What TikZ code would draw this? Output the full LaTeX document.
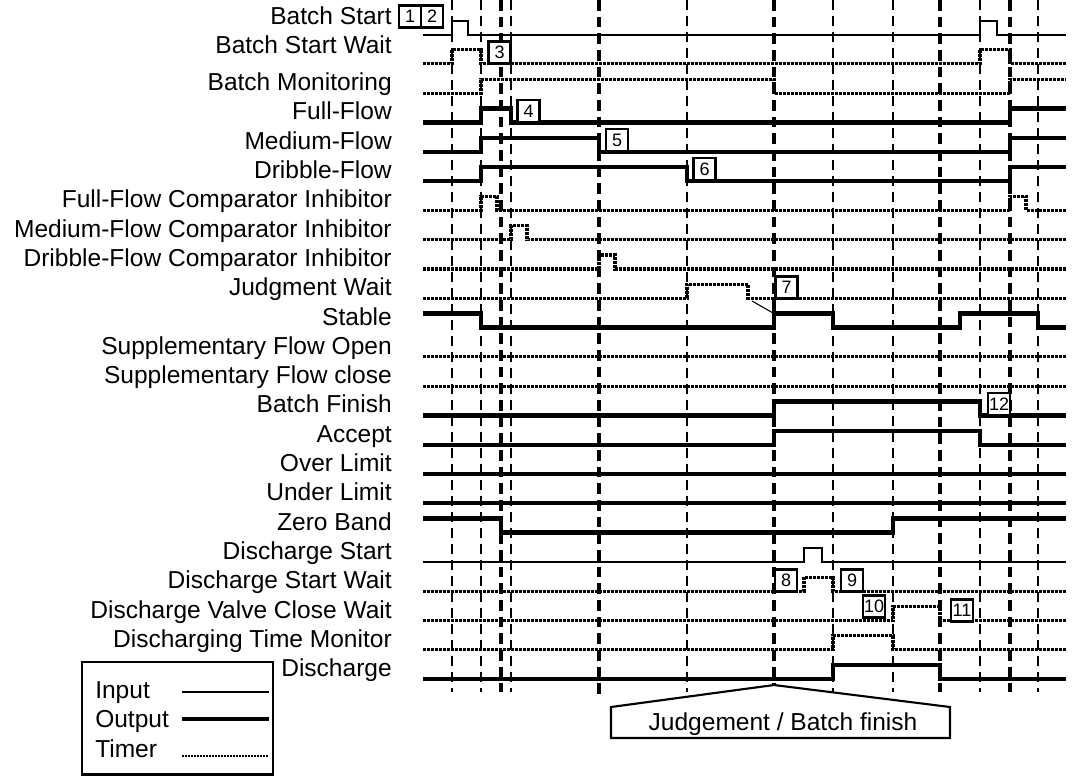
\documentclass[tikz,border=0pt]{standalone}
\usepackage{fontspec}
\setmainfont{Liberation Sans}
\begin{document}
\begin{tikzpicture}[x=0.75pt,y=-0.75pt,
  inp/.style={line width=1.5pt},
  outp/.style={line width=3.2pt},
  tmr/.style={line width=2.4pt,dash pattern=on 2.25pt off 0.75pt},
  vthin/.style={line width=1.1pt,dash pattern=on 7.5pt off 4.5pt},
  vthick/.style={line width=2.3pt,dash pattern=on 8pt off 4.5pt},
  lbl/.style={anchor=base east,inner sep=0pt,font=\fontsize{18.4}{20}\selectfont},
  lgd/.style={anchor=base west,inner sep=0pt,font=\fontsize{18.4}{20}\selectfont},
  nbox/.style={draw,line width=1.6pt,fill=white,minimum width=16.5pt,minimum height=16.5pt,inner sep=0pt,font=\fontsize{13.5}{13.5}\selectfont}]
\useasboundingbox (0,0) rectangle (1073,776);

% vertical dashed lines
\foreach \x in {452,481,511,687,833,893,980,1038} \draw[vthin] (\x,0) -- (\x,692);
\foreach \x in {501,940,1010} \draw[vthick] (\x,0) -- (\x,692);
\draw[vthick] (599,0) -- (599,697);
\draw[vthick] (774,0) -- (774,685);

% labels
\node[lbl] (l0) at (392,24.5) {Batch Start};
\node[lbl] (l1) at (392,53.8) {Batch Start Wait};
\node[lbl] (l2) at (392,90.6) {Batch Monitoring};
\node[lbl] (l3) at (392,119.9) {Full-Flow};
\node[lbl] (l4) at (392,149.2) {Medium-Flow};
\node[lbl] (l5) at (392,178.5) {Dribble-Flow};
\node[lbl] (l6) at (392,207.8) {Full-Flow Comparator Inhibitor};
\node[lbl] (l7) at (392,237.1) {Medium-Flow Comparator Inhibitor};
\node[lbl] (l8) at (392,266.4) {Dribble-Flow Comparator Inhibitor};
\node[lbl] (l9) at (392,295.7) {Judgment Wait};
\node[lbl] (l10) at (392,325.0) {Stable};
\node[lbl] (l11) at (392,354.3) {Supplementary Flow Open};
\node[lbl] (l12) at (392,383.6) {Supplementary Flow close};
\node[lbl] (l13) at (392,412.9) {Batch Finish};
\node[lbl] (l14) at (392,442.2) {Accept};
\node[lbl] (l15) at (392,471.5) {Over Limit};
\node[lbl] (l16) at (392,500.8) {Under Limit};
\node[lbl] (l17) at (392,530.1) {Zero Band};
\node[lbl] (l18) at (392,559.4) {Discharge Start};
\node[lbl] (l19) at (392,588.7) {Discharge Start Wait};
\node[lbl] (l20) at (392,618.0) {Discharge Valve Close Wait};
\node[lbl] (l21) at (392,647.3) {Discharging Time Monitor};
\node[lbl] (l22) at (392,676.6) {Discharge};

% waveforms
\draw[inp] (423,34.5) -- (452,34.5) -- (452,20.5) -- (468,20.5) -- (468,34.5) -- (980,34.5) -- (980,20.5) -- (997,20.5) -- (997,34.5) -- (1066,34.5);
\draw[tmr] (423,63.8) -- (452,63.8) -- (452,49.8) -- (481,49.8) -- (481,63.8) -- (980,63.8) -- (980,49.8) -- (1010,49.8) -- (1010,63.8) -- (1066,63.8);
\draw[tmr] (423,93.1) -- (481,93.1) -- (481,79.1) -- (774,79.1) -- (774,93.1) -- (1010,93.1) -- (1010,79.1) -- (1066,79.1);
\draw[outp] (423,122.4) -- (481,122.4) -- (481,108.4) -- (511,108.4) -- (511,122.4) -- (1010,122.4) -- (1010,108.4) -- (1066,108.4);
\draw[outp] (423,151.7) -- (481,151.7) -- (481,137.7) -- (599,137.7) -- (599,151.7) -- (1010,151.7) -- (1010,137.7) -- (1066,137.7);
\draw[outp] (423,181.0) -- (481,181.0) -- (481,167.0) -- (687,167.0) -- (687,181.0) -- (1010,181.0) -- (1010,167.0) -- (1066,167.0);
\draw[tmr] (423,210.3) -- (481,210.3) -- (481,196.3) -- (497,196.3) -- (497,210.3) -- (1010,210.3) -- (1010,196.3) -- (1026,196.3) -- (1026,210.3) -- (1066,210.3);
\draw[tmr] (423,239.6) -- (511,239.6) -- (511,225.6) -- (527,225.6) -- (527,239.6) -- (1066,239.6);
\draw[tmr] (423,268.9) -- (599,268.9) -- (599,254.9) -- (615,254.9) -- (615,268.9) -- (1066,268.9);
\draw[tmr] (423,298.2) -- (687,298.2) -- (687,284.2) -- (748,284.2) -- (748,298.2) -- (1066,298.2);
\draw[outp] (423,313.5) -- (481,313.5) -- (481,327.5) -- (774,327.5) -- (774,313.5) -- (833,313.5) -- (833,327.5) -- (960,327.5) -- (960,313.5) -- (1038,313.5) -- (1038,327.5) -- (1066,327.5);
\draw[tmr] (423,356.8) -- (1066,356.8);
\draw[tmr] (423,386.1) -- (1066,386.1);
\draw[outp] (423,415.4) -- (774,415.4) -- (774,401.4) -- (980,401.4) -- (980,415.4) -- (1066,415.4);
\draw[outp] (423,444.7) -- (774,444.7) -- (774,430.7) -- (980,430.7) -- (980,444.7) -- (1066,444.7);
\draw[outp] (423,474.0) -- (1066,474.0);
\draw[outp] (423,503.3) -- (1066,503.3);
\draw[outp] (423,518.6) -- (501,518.6) -- (501,532.6) -- (893,532.6) -- (893,518.6) -- (1066,518.6);
\draw[inp] (423,561.9) -- (804,561.9) -- (804,547.9) -- (822,547.9) -- (822,561.9) -- (1066,561.9);
\draw[tmr] (423,591.2) -- (804,591.2) -- (804,577.2) -- (833,577.2) -- (833,591.2) -- (1066,591.2);
\draw[tmr] (423,620.5) -- (893,620.5) -- (893,606.5) -- (940,606.5) -- (940,620.5) -- (1066,620.5);
\draw[tmr] (423,649.8) -- (833,649.8) -- (833,635.8) -- (893,635.8) -- (893,649.8) -- (1066,649.8);
\draw[outp] (423,679.1) -- (833,679.1) -- (833,665.1) -- (940,665.1) -- (940,679.1) -- (1066,679.1);

% leader near box 7
\coordinate (lead1) at (752,301);
\coordinate (lead2) at (773,313);
\draw[line width=0.8pt] (lead1) -- (lead2);

% numbered boxes
\node[nbox] (b1) at (410,16.5) {1};
\node[nbox] (b2) at (432,16.5) {2};
\node[nbox] (b3) at (499.5,52.5) {3};
\node[nbox] (b4) at (528.5,111) {4};
\node[nbox] (b5) at (617,140) {5};
\node[nbox] (b6) at (704.5,169) {6};
\node[nbox] (b7) at (786.5,287.5) {7};
\node[nbox] (b8) at (786,580.5) {8};
\node[nbox] (b9) at (852,580.5) {9};
\node[nbox] (b10) at (874,606.5) {10};
\node[nbox] (b11) at (962,610.5) {11};
\node[nbox] (b12) at (999,404) {12};

% callout
\draw[line width=1.6pt,fill=white] (774,685) -- (950,707) -- (950,738) -- (611,738) -- (611,707) -- cycle;
\node[anchor=base,inner sep=0pt,font=\fontsize{18.4}{20}\selectfont] (call) at (783,730.5) {Judgement / Batch finish};

% legend
\draw[line width=1.6pt] (82,662) rectangle (273,774.5);
\node[lgd] (li) at (95,698.5) {Input};
\node[lgd] (lo) at (95,727.5) {Output};
\node[lgd] (lt) at (95,757.5) {Timer};
\coordinate (ia) at (182,692); \coordinate (ib) at (269,692);
\coordinate (oa) at (182,719); \coordinate (ob) at (269,719);
\coordinate (ta) at (182,756); \coordinate (tb) at (269,756);
\draw[inp] (ia) -- (ib);
\draw[outp] (oa) -- (ob);
\draw[line width=2pt,dash pattern=on 1.5pt off 0.75pt] (ta) -- (tb);
\end{tikzpicture}
\end{document}
